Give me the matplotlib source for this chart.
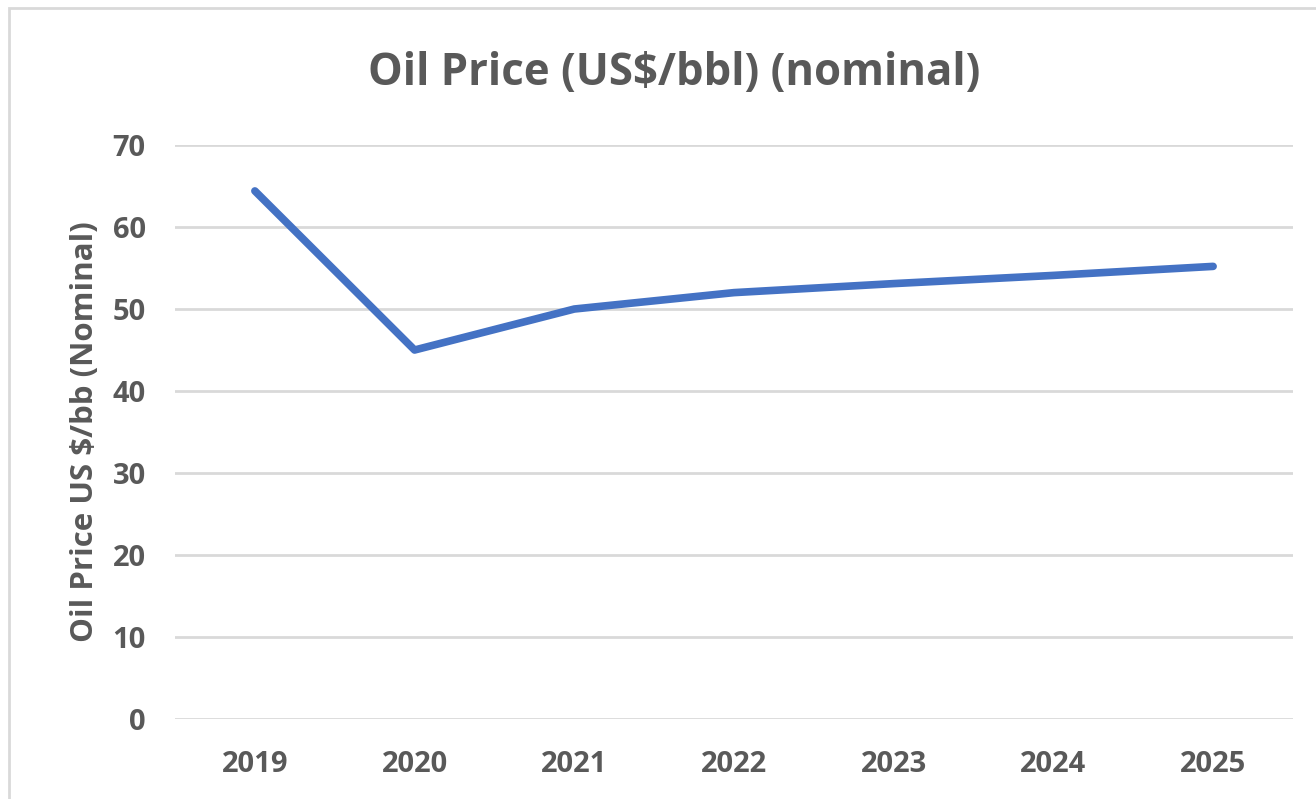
import matplotlib.pyplot as plt
from matplotlib.patches import Rectangle

# data
years = ["2019", "2020", "2021", "2022", "2023", "2024", "2025"]
price = [64.4, 45.0, 50.0, 52.0, 53.1, 54.1, 55.2]
yticks = [0, 10, 20, 30, 40, 50, 60, 70]

grey = "#595959"
plt.rcParams["font.family"] = ["Open Sans", "DejaVu Sans"]
plt.rcParams["font.weight"] = "bold"

fig = plt.figure(figsize=(13.16, 7.99), dpi=100)
ax = fig.add_axes([0.133, 0.1001, 0.8495, 0.7184])

x = range(len(years))
ax.plot(x, price, color="#4472C4", lw=5.5, solid_capstyle="round", solid_joinstyle="round")

ax.set_xlim(-0.5, len(years) - 0.5)
ax.set_ylim(0, 70)
ax.set_yticks(yticks)
ax.set_xticks(list(x))
ax.set_xticklabels(years)
ax.grid(axis="y", color="#D9D9D9", lw=2)
ax.set_axisbelow(True)
for s in ax.spines.values():
    s.set_visible(False)
ax.tick_params(length=0, labelsize=21, labelcolor=grey)
for lab in ax.get_xticklabels() + ax.get_yticklabels():
    lab.set_fontweight("bold")
ax.tick_params(axis="x", pad=22)
ax.tick_params(axis="y", pad=21)

ax.set_ylabel("Oil Price US $/bb (Nominal)", fontsize=22.5, color=grey, fontweight="bold")
ax.yaxis.set_label_coords(-0.067, 0.5)
fig.text(0.512, 0.908, "Oil Price (US$/bbl) (nominal)", ha="center", va="center",
         fontsize=31.5, color=grey, fontweight="bold")

# chart frame like the Excel chart area
fig.patches.append(Rectangle((0.007, -0.01), 1.2, 1.0, transform=fig.transFigure,
                             fill=False, ec="#D9D9D9", lw=2))

fig.savefig("out.png", dpi=100)
